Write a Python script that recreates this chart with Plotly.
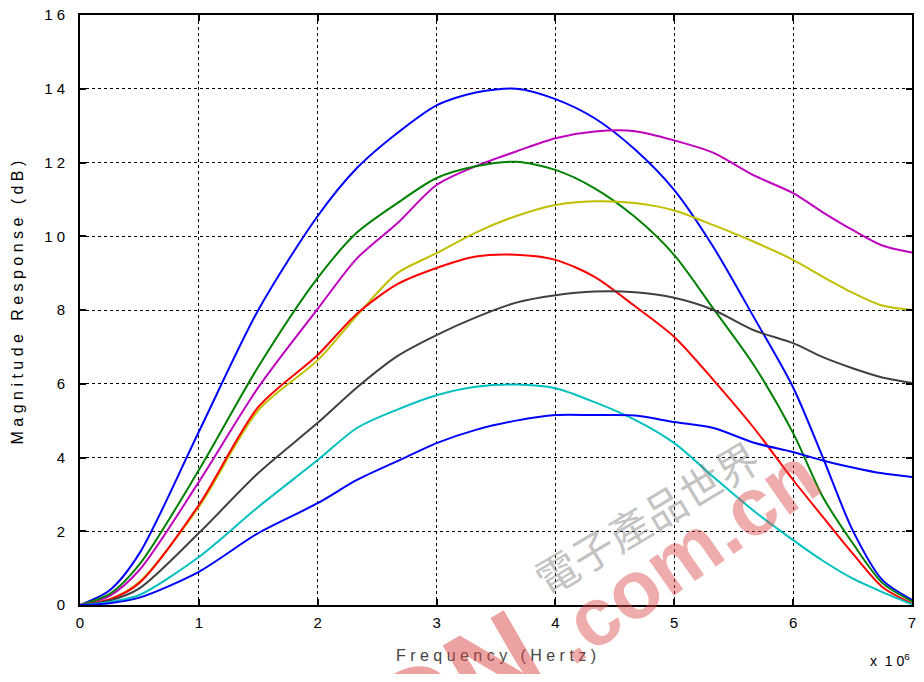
import plotly.graph_objects as go

# frequency in MHz (axis is x 10^6 Hz)
freq = [0, 0.25, 0.5, 1, 1.5, 2, 2.33, 2.67, 3, 3.33, 3.67, 4, 4.33, 4.67, 5, 5.33, 5.67, 6, 6.25, 6.5, 6.75, 7]

blue_high = [0, 0.4, 1.4, 4.7, 8.0, 10.55, 11.85, 12.8, 13.55, 13.9, 14.0, 13.72, 13.2, 12.35, 11.25, 9.7, 7.8, 5.9, 4.0, 2.03, 0.68, 0.14]
green = [0, 0.3, 1.1, 3.66, 6.46, 8.87, 10.1, 10.9, 11.58, 11.9, 12.02, 11.8, 11.3, 10.52, 9.49, 8.03, 6.5, 4.66, 2.93, 1.68, 0.6, 0.1]
magenta = [0, 0.25, 0.95, 3.34, 5.9, 8.03, 9.4, 10.35, 11.39, 11.9, 12.3, 12.66, 12.84, 12.85, 12.6, 12.26, 11.65, 11.17, 10.65, 10.17, 9.75, 9.56]
yellow = [0, 0.15, 0.63, 2.66, 5.28, 6.64, 7.85, 9.0, 9.54, 10.1, 10.55, 10.85, 10.95, 10.9, 10.7, 10.3, 9.85, 9.36, 8.9, 8.47, 8.12, 8.0]
red = [0, 0.15, 0.6, 2.71, 5.37, 6.78, 7.9, 8.7, 9.14, 9.45, 9.5, 9.36, 8.9, 8.1, 7.27, 6.1, 4.8, 3.39, 2.39, 1.4, 0.49, 0.04]
gray = [0, 0.12, 0.45, 1.95, 3.58, 4.94, 5.9, 6.75, 7.32, 7.8, 8.2, 8.4, 8.5, 8.48, 8.33, 8.0, 7.45, 7.1, 6.72, 6.42, 6.17, 6.02]
cyan = [0, 0.08, 0.27, 1.3, 2.66, 3.93, 4.8, 5.3, 5.69, 5.92, 5.98, 5.88, 5.5, 5.02, 4.39, 3.47, 2.55, 1.76, 1.2, 0.72, 0.35, 0.02]
blue_low = [0, 0.05, 0.2, 0.9, 1.95, 2.76, 3.39, 3.9, 4.39, 4.75, 5.0, 5.15, 5.15, 5.14, 4.96, 4.8, 4.4, 4.15, 3.92, 3.73, 3.57, 3.47]

yticks = [0, 2, 4, 6, 8, 10, 12, 14, 16]
ytick_text = ['0', '2', '4', '6', '8', '1 0', '1 2', '1 4', '1 6']
xticks = [0, 1, 2, 3, 4, 5, 6, 7]

series = [
    (blue_high, '#0000ff'),
    (magenta, '#bf00bf'),
    (green, '#008000'),
    (yellow, '#bfbf00'),
    (red, '#ff0000'),
    (gray, '#404040'),
    (cyan, '#00bfbf'),
    (blue_low, '#0000ff'),
]

font_main = 'Liberation Sans, Arial'

fig = go.Figure()
for vals, col in series:
    fig.add_trace(go.Scatter(x=freq, y=vals, mode='lines', line=dict(color=col, width=2, shape='spline', smoothing=0.8),
                             showlegend=False, hoverinfo='skip'))

axis_common = dict(showline=True, linecolor='black', linewidth=2, mirror='ticks', ticks='inside', ticklen=6,
                   tickwidth=2, tickcolor='black', showgrid=True, gridcolor='black', griddash='dot', gridwidth=1,
                   zeroline=False, automargin=False, ticklabeloverflow='allow',
                   tickfont=dict(family=font_main, size=15, color='black'))

fig.update_xaxes(range=[0, 7], tickvals=xticks, ticklabelstandoff=3, **axis_common)
fig.update_yaxes(range=[0, 16], tickvals=yticks, ticktext=ytick_text, ticklabelstandoff=10, **axis_common)

# axis titles (letter-spaced like the original)
fig.add_annotation(text='F r e q u e n c y   ( H e r t z )', xref='paper', yref='paper', x=0.5, y=-0.0864,
                   xanchor='center', yanchor='middle', showarrow=False,
                   font=dict(family=font_main, size=16, color='#444444'))
fig.add_annotation(text='M a g n i t u d e   R e s p o n s e   ( d B )', xref='paper', yref='paper', x=-0.074, y=0.5136,
                   xanchor='center', yanchor='middle', textangle=-90, showarrow=False,
                   font=dict(family=font_main, size=16, color='black'))

# exponent label
fig.add_annotation(text='x  1 0<sup>6</sup>', xref='paper', yref='paper', x=1.0, y=-0.075, xanchor='right', yanchor='top',
                   showarrow=False, font=dict(family=font_main, size=14, color='black'))

# watermark
fig.add_annotation(text='電子產品世界', xref='paper', yref='paper', x=0.68, y=0.15, xanchor='center', yanchor='middle',
                   textangle=-31, showarrow=False,
                   font=dict(family='Noto Sans CJK TC', size=42, color='rgba(120,120,120,0.45)'))
fig.add_annotation(text='<b>.com.cn</b>', xref='paper', yref='paper', x=0.725, y=0.085, xanchor='center', yanchor='middle',
                   textangle=-35, showarrow=False,
                   font=dict(family=font_main, size=82, color='rgba(220,70,70,0.45)'))
fig.add_annotation(text='<b>EDN</b>', xref='paper', yref='paper', x=0.41, y=-0.17, xanchor='center', yanchor='middle',
                   textangle=-30, showarrow=False,
                   font=dict(family=font_main, size=120, color='rgba(220,70,70,0.5)'))

# the page body keeps an 8px margin, so size the figure to fit the window without overflow
fig.update_layout(width=908, height=666, margin=dict(l=72, r=4, t=7, b=69),
                  plot_bgcolor='white', paper_bgcolor='white')

fig.write_html('out.html')
